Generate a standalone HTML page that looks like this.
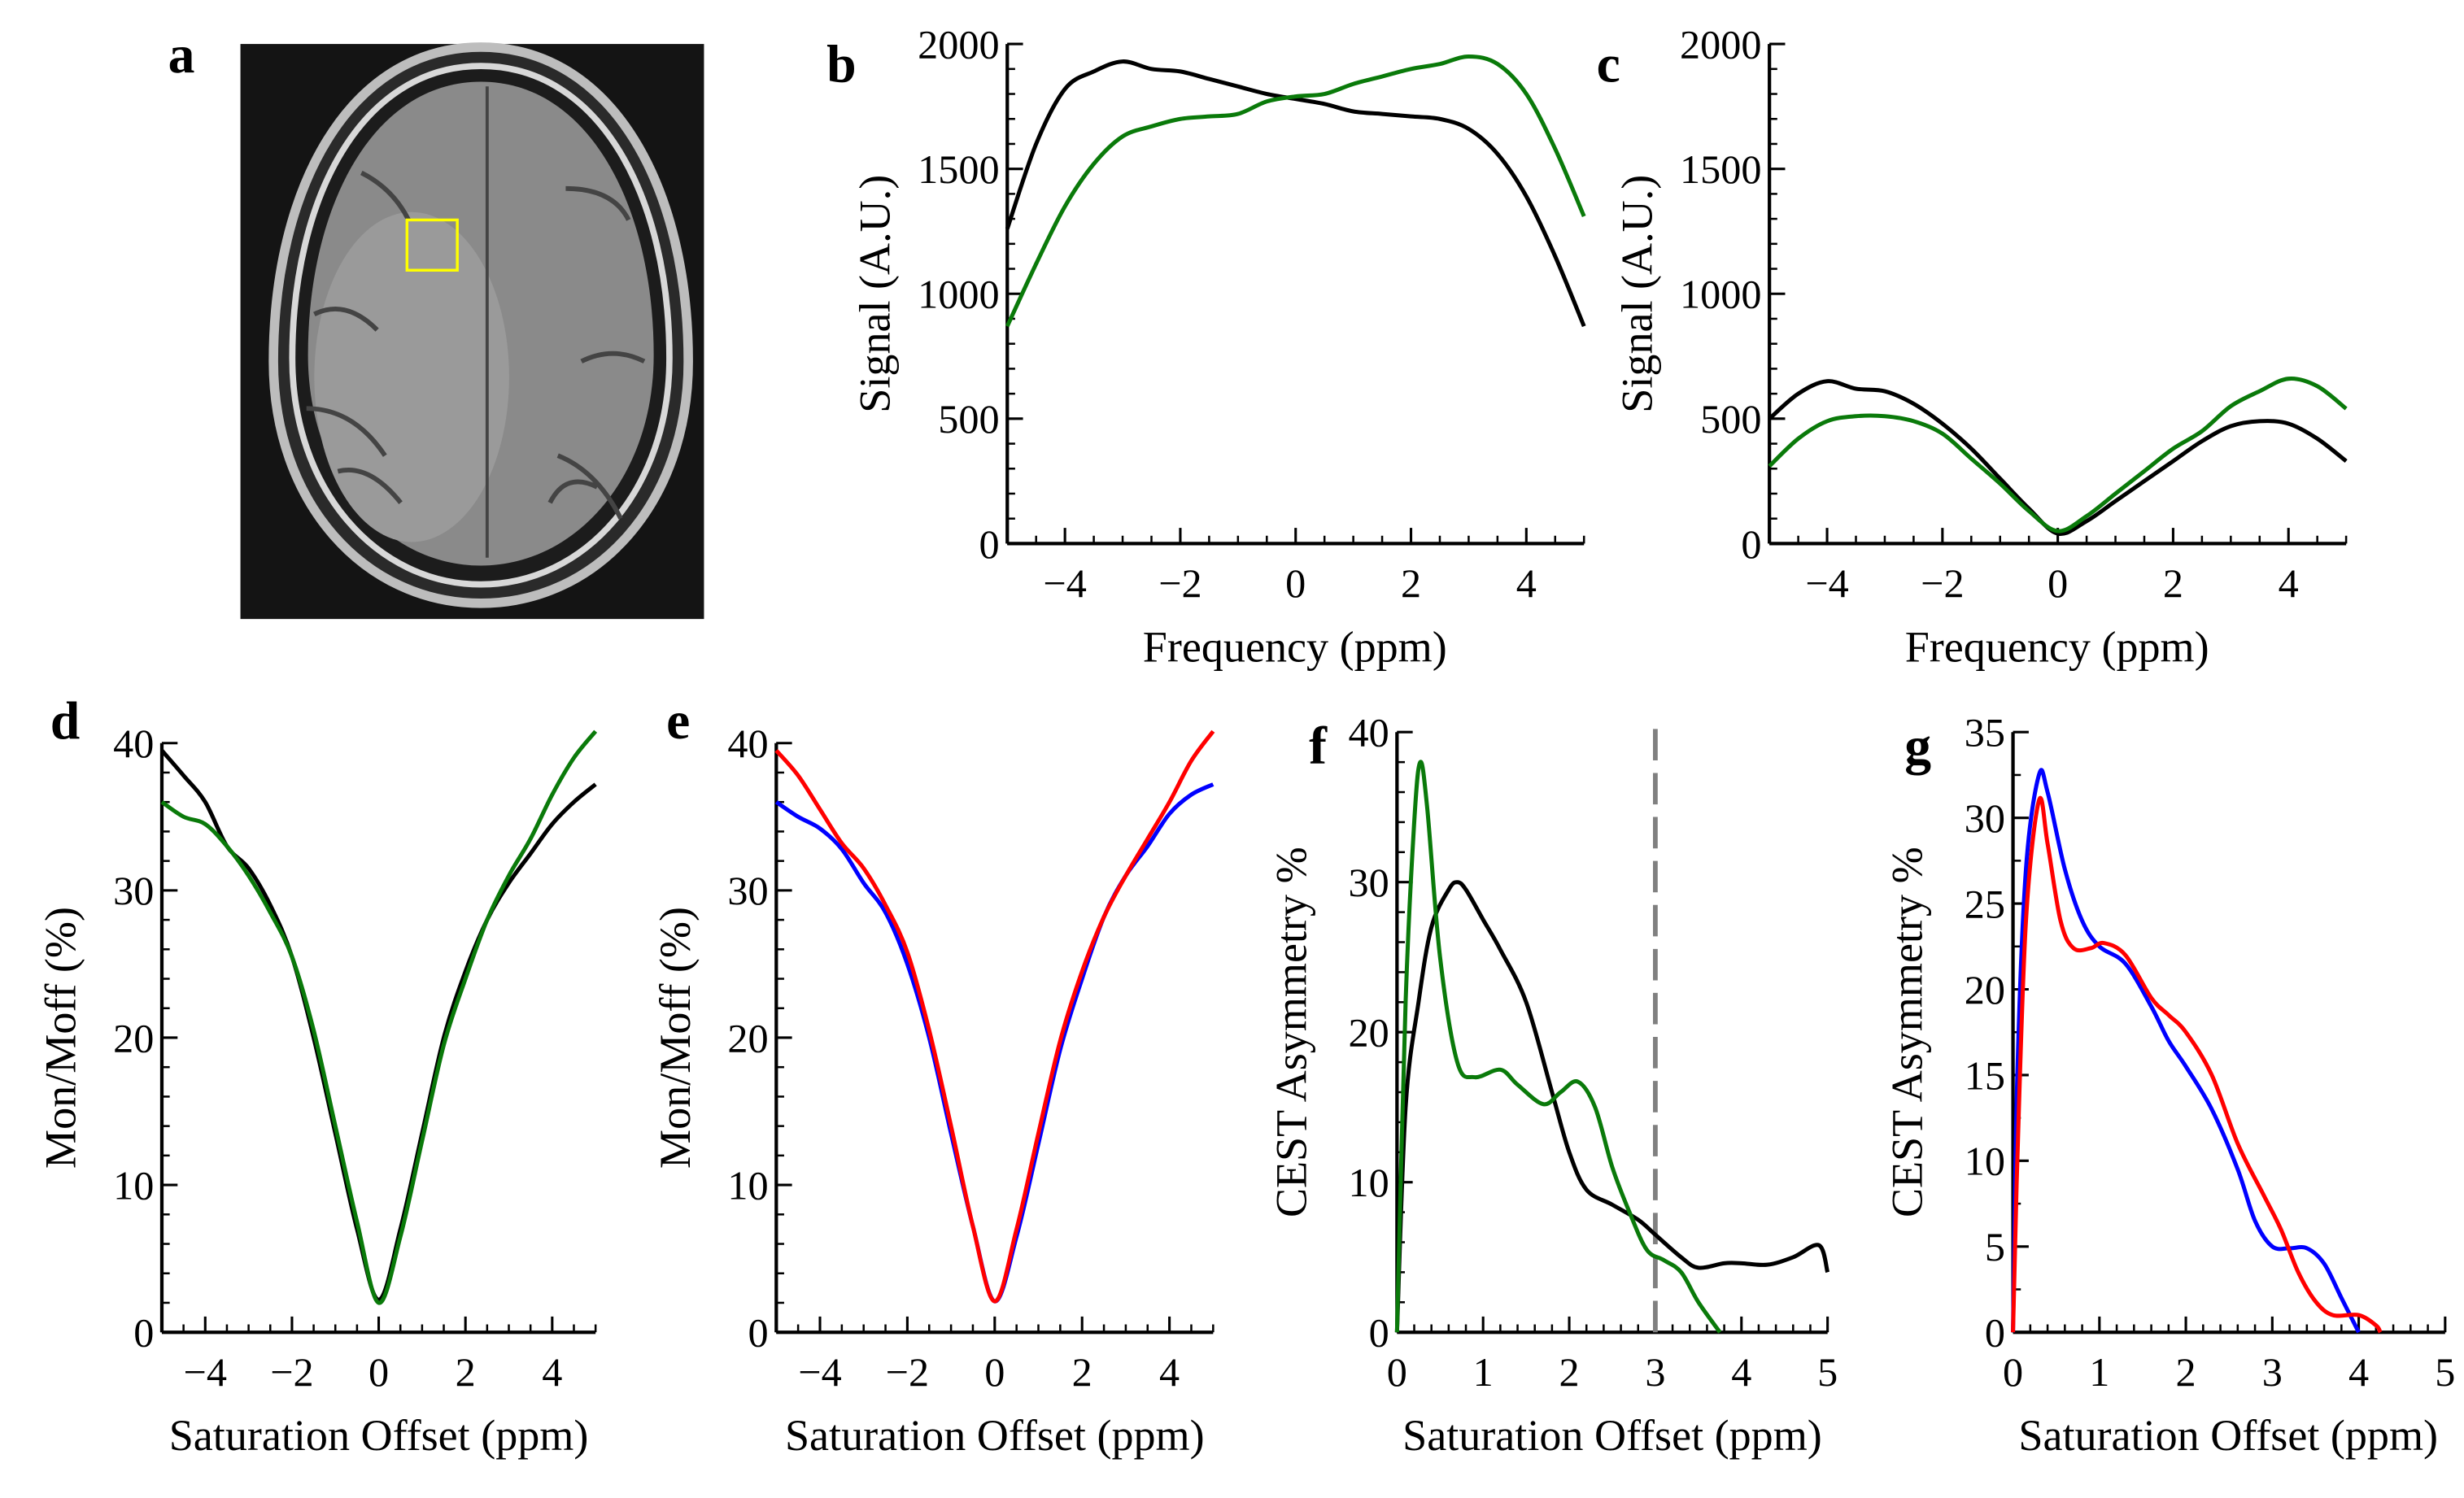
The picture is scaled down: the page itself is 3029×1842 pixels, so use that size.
<!DOCTYPE html>
<html><head><meta charset="utf-8"><style>
html,body{margin:0;padding:0;background:#fff;}
svg{display:block;}
svg text{font-family:"Liberation Serif","DejaVu Serif",serif;fill:#000;}
</style></head><body>
<svg id="fig" width="3029" height="1842" viewBox="0 0 1568 953.5" preserveAspectRatio="none" xmlns="http://www.w3.org/2000/svg" font-family="Liberation Serif, serif">
<g>
<rect x="153" y="28" width="295" height="366" fill="#141414"/>
<path d="M306 30 C390 30 438 120 438 230 C438 320 380 384 306 384 C232 384 174 320 174 230 C174 120 222 30 306 30 Z" fill="#2a2a2a" stroke="#bdbdbd" stroke-width="6"/>
<path d="M306 42 C382 42 426 126 426 228 C426 312 372 372 306 372 C240 372 186 312 186 228 C186 126 230 42 306 42 Z" fill="#1c1c1c" stroke="#d8d8d8" stroke-width="4"/>
<path d="M306 52 C375 52 416 132 416 226 C416 304 366 360 306 360 C246 360 196 304 196 226 C196 132 237 52 306 52 Z" fill="#8a8a8a"/>
<ellipse cx="262" cy="240" rx="62" ry="105" fill="#9a9a9a"/>
<line x1="310" y1="55" x2="310" y2="355" stroke="#444" stroke-width="2"/>
<path d="M200 200 q20 -10 40 10 M195 260 q30 0 50 30 M215 300 q20 -5 40 20 M360 120 q30 0 40 20 M370 230 q20 -10 40 0 M355 290 q25 10 40 40 M230 110 q20 10 30 30 M350 320 q10 -20 30 -10" stroke="#444" stroke-width="3" fill="none"/>
<rect x="259" y="140" width="32" height="32" fill="none" stroke="#ffff00" stroke-width="1.8"/>
</g>
<text x="107" y="46" font-size="34" font-weight="bold">a</text>
<text x="526" y="52" font-size="34" font-weight="bold">b</text>
<text x="1016" y="52" font-size="34" font-weight="bold">c</text>
<text x="32" y="470" font-size="34" font-weight="bold">d</text>
<text x="424" y="470" font-size="34" font-weight="bold">e</text>
<text x="833" y="486" font-size="34" font-weight="bold">f</text>
<text x="1212" y="486" font-size="34" font-weight="bold">g</text>
</svg>
<script>
const NS="http://www.w3.org/2000/svg";
const svg=document.getElementById('fig');
// ---- data ----
const xSym=[-5,-4.5,-4,-3.5,-3,-2.5,-2,-1.5,-1,-0.5,0,0.5,1,1.5,2,2.5,3,3.5,4,4.5,5];
const bBlack=[1260,1600,1820,1890,1930,1900,1890,1860,1830,1800,1780,1760,1730,1720,1710,1700,1660,1560,1390,1150,870];
const bGreen=[870,1120,1350,1520,1630,1670,1700,1710,1720,1770,1790,1800,1840,1870,1900,1920,1950,1920,1800,1580,1310];
const cBlack=[500,600,650,620,610,560,480,380,260,140,40,90,170,250,330,410,470,490,480,420,330];
const cGreen=[310,420,490,510,510,490,440,340,240,130,50,110,200,290,380,450,550,610,660,630,540];
const dBlack=[39.5,37.8,36,33,31.5,29,25.5,20,13.5,7,2.2,7,13.5,20,24.5,28,30.5,32.5,34.5,36,37.2];
const dGreen=[36,35,34.5,33,31,28.5,25.5,20.5,14,7.5,2,6.5,13,19.5,24,28,31,33.5,36.5,39,40.8];
const eBlue=[36,35,34.2,32.8,30.5,28.5,25,20,13.5,7.2,2.1,6.5,12.8,19.2,24,28.2,31,33,35.2,36.5,37.2];
const eRed=[39.5,37.8,35.5,33.2,31.5,29,25.8,20.5,14,7.2,2.1,7,13.5,19.8,24.5,28.2,31,33.5,36,38.8,40.8];
const fBlackX=[0,0.1,0.25,0.4,0.6,0.7,0.8,1,1.2,1.5,1.8,2,2.2,2.5,2.8,3,3.3,3.5,3.8,4,4.3,4.6,4.9,5];
const fBlackY=[0,15,22,27,29.5,30,29.5,27.5,25.5,22,16,12,9.5,8.5,7.5,6.5,5,4.3,4.6,4.6,4.5,5,5.8,4];
const fGreenX=[0,0.1,0.2,0.27,0.35,0.5,0.7,0.9,1.2,1.4,1.7,1.9,2.1,2.3,2.5,2.7,2.9,3.1,3.3,3.5,3.75];
const fGreenY=[0,22,34,38,35,25,18,17,17.5,16.5,15.2,16,16.7,15,11,8,5.5,4.8,4,2,0];
const gBlueX=[0,0.05,0.15,0.3,0.4,0.6,0.8,1,1.3,1.6,1.8,2,2.3,2.6,2.8,3,3.2,3.4,3.6,3.8,4];
const gBlueY=[0,15,27,32.5,31.5,27,24,22.5,21.5,19,17,15.5,13,9.5,6.5,5,4.9,4.9,4,2,0];
const gRedX=[0,0.05,0.15,0.3,0.4,0.55,0.7,0.9,1.05,1.3,1.6,1.8,2,2.3,2.6,2.9,3.1,3.3,3.5,3.7,4,4.2,4.25];
const gRedY=[0,10,24,31,28.5,24,22.4,22.4,22.7,22,19.5,18.5,17.5,15,11,8,6,3.5,1.8,1,1,0.4,0];
const symTicks=[-4,-2,0,2,4];
const posTicks=[0,1,2,3,4,5];
const sigTicks=[0,500,1000,1500,2000];
const monTicks=[0,10,20,30,40];
const gTicks=[0,5,10,15,20,25,30,35];
// ---- helpers ----
const FONT='Liberation Serif, DejaVu Serif, serif';
function el(tag,attrs,parent){const e=document.createElementNS(NS,tag);for(const k in attrs)e.setAttribute(k,attrs[k]);if(tag==='text')e.setAttribute('font-family',FONT);(parent||svg).appendChild(e);return e;}
function makeAxis(name,x0,x1,y0,y1,xmin,xmax,ymin,ymax){
  const sx=v=>x0+(v-xmin)/(xmax-xmin)*(x1-x0);
  const sy=v=>y0-(v-ymin)/(ymax-ymin)*(y0-y1);
  return {name,x0,x1,y0,y1,sx,sy};
}
function drawFrame(a,xt,xminor,yt,yminor,xlab,ylab,xlabX,ylabY){
  const g=el('g',{});
  
  
  el('line',{x1:a.x0,y1:a.y0,x2:a.x1,y2:a.y0,stroke:'#000','stroke-width':2.2},g);
  el('line',{x1:a.x0,y1:a.y0,x2:a.x0,y2:a.y1,stroke:'#000','stroke-width':2.2},g);
  xminor.forEach(v=>el('line',{x1:a.sx(v),y1:a.y0,x2:a.sx(v),y2:a.y0-5,stroke:'#000','stroke-width':1.3},g));
  yminor.forEach(v=>el('line',{x1:a.x0,y1:a.sy(v),x2:a.x0+5,y2:a.sy(v),stroke:'#000','stroke-width':1.3},g));
  xt.forEach(v=>{
    el('line',{x1:a.sx(v),y1:a.y0,x2:a.sx(v),y2:a.y0-10,stroke:'#000','stroke-width':1.6},g);
    const t=el('text',{x:a.sx(v),y:a.y0+34,'font-size':26,'text-anchor':'middle'},g);
    
    
    t.textContent=(v<0?'\u2212'+(-v):String(v));
  });
  yt.forEach(v=>{
    el('line',{x1:a.x0,y1:a.sy(v),x2:a.x0+10,y2:a.sy(v),stroke:'#000','stroke-width':1.6},g);
    const t=el('text',{x:a.x0-5,y:a.sy(v)+9,'font-size':26,'text-anchor':'end'},g);
    
    
    t.textContent=String(v);
  });
  const xl=el('text',{x:xlabX,y:a.y0+75,'font-size':28,'text-anchor':'middle'},g);
  
  
  xl.textContent=xlab;
  const yl=el('text',{x:0,y:0,'font-size':28,'text-anchor':'middle',transform:'translate('+(a.x0-ylabY)+','+((a.y0+a.y1)/2)+') rotate(-90)'},g);
  
  
  yl.textContent=ylab;
}
function curve(a,xs,ys,color,name){
  const p=xs.map((x,i)=>[a.sx(x),a.sy(ys[i])]);
  let d='M'+p[0][0].toFixed(2)+' '+p[0][1].toFixed(2);
  for(let i=0;i<p.length-1;i++){
    const p0=p[Math.max(0,i-1)],p1=p[i],p2=p[i+1],p3=p[Math.min(p.length-1,i+2)];
    const c1=[p1[0]+(p2[0]-p0[0])/6,p1[1]+(p2[1]-p0[1])/6];
    const c2=[p2[0]-(p3[0]-p1[0])/6,p2[1]-(p3[1]-p1[1])/6];
    d+=' C'+c1.join(' ')+' '+c2.join(' ')+' '+p2.join(' ');
  }
  const e=el('path',{d:d,fill:'none',stroke:color,'stroke-width':2.6,'stroke-linejoin':'round'});
  
  
}
function range(a,b,s){const r=[];for(let v=a;v<=b+1e-9;v+=s)r.push(+v.toFixed(3));return r;}
const GREEN='#0a7a0a';
const aB=makeAxis('panel-b',641,1008,346,28,-5,5,0,2000);
drawFrame(aB,symTicks,range(-5,5,0.5),sigTicks,range(0,2000,100),'Frequency (ppm)','Signal (A.U.)',824,75);
curve(aB,xSym,bBlack,'#000','b-black-line');
curve(aB,xSym,bGreen,GREEN,'b-green-line');
const aC=makeAxis('panel-c',1126,1493,346,28,-5,5,0,2000);
drawFrame(aC,symTicks,range(-5,5,0.5),sigTicks,range(0,2000,100),'Frequency (ppm)','Signal (A.U.)',1309,75);
curve(aC,xSym,cBlack,'#000','c-black-line');
curve(aC,xSym,cGreen,GREEN,'c-green-line');
const aD=makeAxis('panel-d',103,379,848,473,-5,5,0,40);
drawFrame(aD,symTicks,range(-5,5,0.5),monTicks,range(0,40,2),'Saturation Offset (ppm)','Mon/Moff (%)',241,55);
curve(aD,xSym,dBlack,'#000','d-black-line');
curve(aD,xSym,dGreen,GREEN,'d-green-line');
const aE=makeAxis('panel-e',494,772,848,473,-5,5,0,40);
drawFrame(aE,symTicks,range(-5,5,0.5),monTicks,range(0,40,2),'Saturation Offset (ppm)','Mon/Moff (%)',633,55);
curve(aE,xSym,eBlue,'#0000ff','e-blue-line');
curve(aE,xSym,eRed,'#ff0000','e-red-line');
const aF=makeAxis('panel-f',889,1163,848,466,0,5,0,40);
drawFrame(aF,posTicks,range(0,5,0.2),monTicks,range(0,40,2),'Saturation Offset (ppm)','CEST Asymmetry %',1026,58);
const dash=el('line',{x1:aF.sx(3),y1:aF.y0,x2:aF.sx(3),y2:aF.y1-4,stroke:'#808080','stroke-width':3,'stroke-dasharray':'20 8'});


curve(aF,fBlackX,fBlackY,'#000','f-black-line');
curve(aF,fGreenX,fGreenY,GREEN,'f-green-line');
const aG=makeAxis('panel-g',1281,1556,848,466,0,5,0,35);
drawFrame(aG,posTicks,range(0,5,0.2),gTicks,range(0,35,2.5),'Saturation Offset (ppm)','CEST Asymmetry %',1418,58);
curve(aG,gBlueX,gBlueY,'#0000ff','g-blue-line');
curve(aG,gRedX,gRedY,'#ff0000','g-red-line');
</script>
</body></html>
